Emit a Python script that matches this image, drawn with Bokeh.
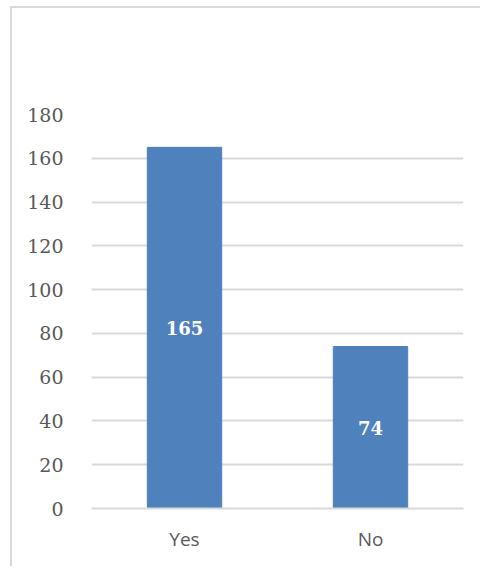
from bokeh.plotting import figure
from bokeh.models import ColumnDataSource, Label
from bokeh.embed import file_html
from bokeh.resources import INLINE
from bokeh.core.properties import value

categories = ["Yes", "No"]
counts = [165, 74]
y_ticks = [0, 20, 40, 60, 80, 100, 120, 140, 160, 180]
title_text = "Alan opintoja"

src = ColumnDataSource(dict(cat=categories, val=counts, mid=[v / 2 for v in counts],
                            lab=[str(v) for v in counts]))

p = figure(x_range=categories, y_range=(0, 180), width=470, height=560,
           output_backend="svg", toolbar_location=None,
           min_border_left=79, min_border_right=19, min_border_top=106, min_border_bottom=60)
p.styles = {"border-left": "2px solid #d9d9d9", "border-top": "2px solid #d9d9d9",
            "margin-left": "10px", "margin-top": "6px"}
p.outline_line_color = None
p.background_fill_color = "white"
p.border_fill_color = "white"

p.vbar(x="cat", top="val", width=0.4, source=src, fill_color="#4f81bd", line_color="#4f81bd")
p.text(x="cat", y="mid", text="lab", source=src, text_color="white",
       text_font=value("DejaVu Serif"), text_font_style="bold", text_font_size="18px",
       text_align="center", text_baseline="middle")

# chart title, placed in the border area above the frame
title = Label(x=0.855, y=206, x_units="data", y_units="data", text=title_text,
              text_font="Open Sans", text_font_style="bold", text_font_size="35px",
              text_color="#595959", text_align="center", text_baseline="middle")
p.add_layout(title)

p.yaxis.ticker = y_ticks
p.yaxis.axis_line_color = None
p.yaxis.major_tick_line_color = None
p.yaxis.minor_tick_line_color = None
p.yaxis.major_label_text_font = "DejaVu Serif"
p.yaxis.major_label_text_font_size = "19px"
p.yaxis.major_label_text_color = "#595959"
p.yaxis.major_label_standoff = 22

p.xaxis.axis_line_color = "#d9d9d9"
p.xaxis.axis_line_width = 2
p.xaxis.major_tick_line_color = None
p.xaxis.major_label_text_font = "Open Sans"
p.xaxis.major_label_text_font_size = "19px"
p.xaxis.major_label_text_color = "#595959"
p.xaxis.major_label_standoff = 11

p.xgrid.grid_line_color = None
p.ygrid.grid_line_color = "#d9d9d9"
p.ygrid.grid_line_width = 2
p.x_range.range_padding = 0

open("out.html", "w").write(file_html(p, INLINE))
